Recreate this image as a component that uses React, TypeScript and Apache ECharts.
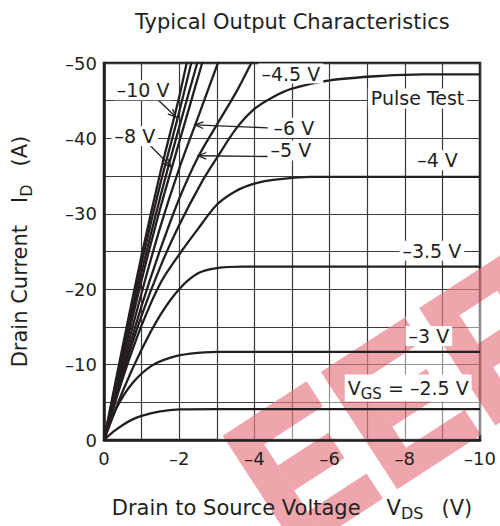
import React, { useEffect, useRef } from "react";
import * as echarts from "echarts";

const FONT = "'DejaVu Sans', 'Liberation Sans', Arial, sans-serif";
const INK = "#231f20";

const titleText = "Typical Output Characteristics";
const xAxisTitle = "Drain to Source Voltage";
const yAxisTitle = "Drain Current";

// Curves: [|VDS| (V), |ID| (A)] (plotted as negative values)
const vgsM10 = [[0, 0], [0.5, 12.5], [1, 24.5], [1.5, 35.5], [2, 45.5], [2.2, 50], [2.3, 52]];
const vgsM9 = [[0, 0], [0.5, 12], [1, 23.5], [1.5, 34], [2, 43.5], [2.32, 50], [2.42, 52]];
const vgsM8 = [[0, 0], [0.5, 11.4], [1, 22.3], [1.5, 32.3], [2, 41.5], [2.48, 50], [2.6, 52]];
const vgsM7 = [[0, 0], [0.5, 10.8], [1, 21.2], [1.5, 30.8], [2, 39.5], [2.61, 50], [2.72, 52]];
const vgsM6 = [[0, 0], [0.5, 10], [1, 19.5], [1.5, 28.3], [2, 36], [2.5, 42.8], [3.03, 50], [3.15, 51.5]];
const vgsM5 = [[0, 0], [0.5, 9.3], [1, 17.8], [1.5, 25.3], [2, 32], [2.5, 37.5], [3, 41.8], [3.5, 46], [3.92, 50], [4.03, 51]];
const vgsM45 = [[0, 0], [0.5, 8.8], [1, 16.5], [1.5, 23], [2, 28.5], [2.6, 34.2], [3, 37.4], [3.5, 41.2], [4, 43.9], [4.5, 45.5], [5, 46.6], [6, 47.7], [7.4, 48.3], [8.5, 48.5], [10, 48.5]];
const vgsM4 = [[0, 0], [0.5, 8.2], [1, 15.2], [1.5, 20.8], [2, 24.6], [2.5, 28], [3, 31.2], [3.5, 33], [4, 34], [4.5, 34.5], [5.5, 34.9], [10, 34.9]];
const vgsM35 = [[0, 0], [0.5, 6.5], [1, 12], [1.5, 16.6], [2, 20], [2.5, 22.1], [3, 22.8], [3.7, 23], [5, 23], [10, 23]];
const vgsM3 = [[0, 0], [0.35, 4.4], [0.75, 7.5], [1.25, 9.8], [1.75, 10.9], [2.3, 11.45], [3, 11.7], [4, 11.7], [10, 11.7]];
const vgsM25 = [[0, 0], [0.25, 1.1], [0.5, 2], [0.75, 2.7], [1, 3.2], [1.5, 3.8], [2, 4.05], [3, 4.1], [10, 4.1]];

const curveNames = ["-10 V", "-9 V", "-8 V", "-7 V", "-6 V", "-5 V", "-4.5 V", "-4 V", "-3.5 V", "-3 V", "-2.5 V"];
const curveData = [vgsM10, vgsM9, vgsM8, vgsM7, vgsM6, vgsM5, vgsM45, vgsM4, vgsM35, vgsM3, vgsM25];

// Annotation labels: text and centre in (|VDS|, |ID|)
const labelTexts = ["–10 V", "–8 V", "–4.5 V", "Pulse Test", "–6 V", "–5 V", "–4 V", "–3.5 V", "–3 V"];
const labelPos = [[1.04, 46.4], [0.82, 40.3], [4.97, 48.6], [8.34, 45.3], [5.05, 41.4], [4.97, 38.4], [8.87, 37.1], [8.72, 25.1], [8.64, 13.8]];
const vgsLabelPos = [8.09, 6.9];

// Leader arrows: from -> to in (|VDS|, |ID|)
const arrowFrom = [[1.44, 45.1], [1.17, 39.35], [4.36, 41.4], [4.36, 37.6]];
const arrowTo = [[1.92, 42.8], [1.79, 36.2], [2.42, 41.8], [2.5, 37.7]];

const fmtNeg = (v: number) => (v === 0 ? "0" : "–" + Math.abs(v));

export default function App() {
  const ref = useRef<HTMLDivElement>(null);
  useEffect(() => {
    const el = ref.current!;
    const chart = echarts.init(el, null, { renderer: "svg" });
    const neg = (pts: number[][]) => pts.map(([v, i]) => [-v, -i]);
    const series = curveData.map((d, k) => ({
      type: "line",
      name: curveNames[k],
      data: neg(d),
      showSymbol: false,
      smooth: 0.3,
      silent: true,
      clip: true,
      z: 3,
      lineStyle: { color: INK, width: 2.3 },
    }));
    chart.setOption({
      animation: false,
      backgroundColor: "#ffffff",
      title: {
        text: titleText,
        left: 130,
        top: 6,
        textStyle: { fontFamily: FONT, fontSize: 21, fontWeight: "normal", color: INK },
      },
      grid: {
        left: 104, top: 63, width: 376, height: 377,
        outerBoundsMode: "none",
        containLabel: false,
        show: true, borderColor: INK, borderWidth: 2.5, backgroundColor: "transparent",
      },
      xAxis: {
        type: "value", min: -10, max: 0, interval: 1, inverse: true, position: "bottom",
        axisLine: { show: true, onZero: false, lineStyle: { color: INK, width: 2.5 } },
        axisTick: { show: false },
        splitLine: { show: true, lineStyle: { color: "#3a3a3a", width: 1.2 } },
        axisLabel: {
          margin: 9, color: INK, fontFamily: FONT, fontSize: 18,
          formatter: (v: number) => (Math.round(v) % 2 === 0 ? fmtNeg(v) : ""),
        },
        name: xAxisTitle + "{g1| }V{sub|DS}{g2| }(V)",
        nameLocation: "middle",
        nameGap: 55,
        nameTextStyle: {
          fontFamily: FONT, fontSize: 21, color: INK,
          rich: {
            g1: { width: 26, fontSize: 21, fontFamily: FONT },
            sub: { fontSize: 16, fontFamily: FONT, color: INK, padding: [10, 0, 0, 0] },
            g2: { width: 18, fontSize: 21, fontFamily: FONT },
          },
        },
      },
      yAxis: {
        type: "value", min: -50, max: 0, interval: 5, inverse: true, position: "left",
        axisLine: { show: true, onZero: false, lineStyle: { color: INK, width: 2.5 } },
        axisTick: { show: false },
        splitLine: { show: true, lineStyle: { color: "#3a3a3a", width: 1.2 } },
        axisLabel: {
          margin: 7, color: INK, fontFamily: FONT, fontSize: 18,
          formatter: (v: number) => (Math.round(v) % 10 === 0 ? fmtNeg(v) : ""),
        },
        name: yAxisTitle + "{g1| }I{sub|D}{g2| }(A)",
        nameLocation: "middle",
        nameGap: 70,
        nameTextStyle: {
          fontFamily: FONT, fontSize: 21, color: INK,
          rich: {
            g1: { width: 22, fontSize: 21, fontFamily: FONT },
            sub: { fontSize: 16, fontFamily: FONT, color: INK, padding: [12, 0, 0, 0] },
            g2: { width: 18, fontSize: 21, fontFamily: FONT },
          },
        },
      },
      series,
    });

    const px = (p: number[]) => chart.convertToPixel({ gridIndex: 0 } as any, [-p[0], -p[1]]) as number[];
    const graphics: any[] = [];
    // arrows
    arrowFrom.forEach((f, k) => {
      const a = px(f);
      const b = px(arrowTo[k]);
      const dx = b[0] - a[0], dy = b[1] - a[1];
      const len = Math.hypot(dx, dy);
      const ux = dx / len, uy = dy / len;
      const L = 9, ang = 0.38;
      const leg = (s: number) => [
        b[0] - L * (ux * Math.cos(s * ang) - uy * Math.sin(s * ang)),
        b[1] - L * (uy * Math.cos(s * ang) + ux * Math.sin(s * ang)),
      ];
      graphics.push({ type: "line", z: 20, shape: { x1: a[0], y1: a[1], x2: b[0], y2: b[1] }, style: { stroke: INK, lineWidth: 1.3 } });
      graphics.push({ type: "polyline", z: 20, shape: { points: [leg(1), b, leg(-1)] }, style: { stroke: INK, lineWidth: 1.3, fill: null } });
    });
    // labels
    labelTexts.forEach((t, k) => {
      const p = px(labelPos[k]);
      graphics.push({
        type: "text", z: 25, x: p[0], y: p[1],
        style: {
          text: t, fill: INK, fontSize: 19, fontFamily: FONT, align: "center", verticalAlign: "middle",
          backgroundColor: "#ffffff", padding: [1, 3, 0, 3],
        },
      });
    });
    const vp = px(vgsLabelPos);
    graphics.push({
      type: "text", z: 25, x: vp[0], y: vp[1],
      style: {
        text: "{v|V}{s|GS}{n| = –2.5 V}", fill: INK, align: "center", verticalAlign: "middle",
        fontSize: 19, fontFamily: FONT, backgroundColor: "#ffffff", padding: [0, 3, 0, 3],
        rich: {
          v: { fontSize: 19, fontFamily: FONT, fill: INK },
          s: { fontSize: 15, fontFamily: FONT, fill: INK, padding: [12, 0, 0, 0] },
          n: { fontSize: 19, fontFamily: FONT, fill: INK },
        },
      },
    });
    // watermark (approximate)
    const RED = "rgba(214,40,55,0.42)";
    const WASH = "rgba(255,255,255,0.45)";
    const wm: any[] = [
      { type: "rect", shape: { x: 0, y: 0, width: 360, height: 140 }, style: { fill: WASH } },
    ];
    const letterE = (x0: number) => [
      { x: x0, y: 0, w: 30, h: 140 },
      { x: x0 + 30, y: 0, w: 70, h: 30 },
      { x: x0 + 30, y: 55, w: 60, h: 30 },
      { x: x0 + 30, y: 110, w: 70, h: 30 },
    ];
    const letterP = (x0: number) => [
      { x: x0, y: 0, w: 30, h: 140 },
      { x: x0 + 30, y: 0, w: 70, h: 28 },
      { x: x0 + 30, y: 62, w: 70, h: 28 },
      { x: x0 + 75, y: 28, w: 25, h: 34 },
    ];
    [...letterE(8), ...letterE(125), ...letterP(242)].forEach((r) =>
      wm.push({ type: "rect", shape: { x: r.x, y: r.y, width: r.w, height: r.h }, style: { fill: RED } })
    );
    graphics.push({ type: "group", x: 216, y: 440, rotation: (33 * Math.PI) / 180, z: 40, silent: true, children: wm });

    chart.setOption({ graphic: graphics });
    return () => chart.dispose();
  }, []);
  return <div ref={ref} style={{ position: "fixed", left: 0, top: 0, width: 500, height: 526 }} />;
}
